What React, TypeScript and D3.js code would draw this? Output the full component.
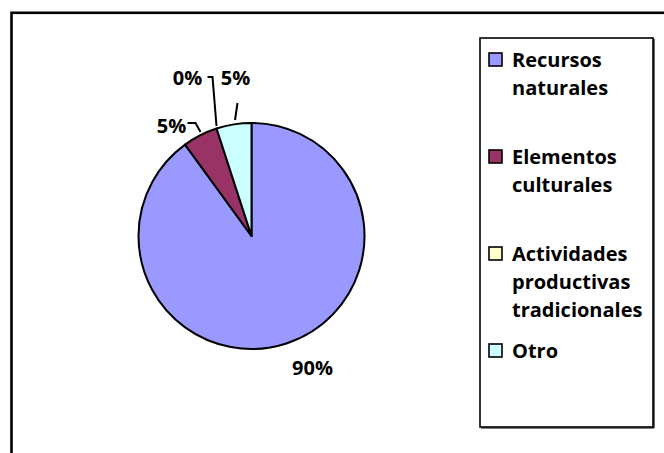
import React from "react";
import * as d3 from "d3";

const categories = [
  "Recursos naturales",
  "Elementos culturales",
  "Actividades productivas tradicionales",
  "Otro",
];
const values = [18, 1, 0, 1];
const colors = ["#9999FF", "#993366", "#FFFFCC", "#CCFFFF"];

const W = 664;
const H = 453;
const FONT = "'Open Sans', Lato, sans-serif";
const FS = 20;

// layout
const cx = 251.5;
const cy = 236;
const R = 113;
// label layout per slice: label anchor (center x, baseline y) offsets relative to pie centre, leader polyline
const labelLayout = [
  { dx: 61, dy: 139, leader: null as null | number[][] },
  { dx: -80, dy: -103, leader: [[-64, -113], [-56, -113], [-51, -104]] },
  { dx: -64, dy: -151, leader: [[-44, -159], [-39, -159], [-35, -110]] },
  { dx: -16, dy: -151, leader: [[-14, -133], [-16.5, -116]] },
];

export default function App() {
  const pie = d3
    .pie<number>()
    .sort(null)
    .value((d) => d)
    .startAngle(0)
    .endAngle(2 * Math.PI);
  const arcs = pie(values);
  const arc = d3.arc<d3.PieArcDatum<number>>().innerRadius(0).outerRadius(R);
  const total = d3.sum(values);
  const pct = d3.format(".0%");
  const line = d3.line();

  const legendX = 480;
  const legendY = 38;
  const legendW = 173;
  const legendH = 389;
  const entryBase0 = 67;
  const entryStep = 97;
  const lineH = 28;

  return (
    <svg
      width={W}
      height={H}
      style={{ position: "absolute", left: 0, top: 0, background: "#fff" }}
      fontFamily={FONT}
    >
      <rect x={0} y={0} width={W} height={H} fill="#fff" />
      {/* outer frame (extends past right/bottom) */}
      <rect x={11.5} y={12.8} width={W + 20} height={H + 20} fill="none" stroke="#000" strokeWidth={2.6} />
      <g transform={`translate(${cx},${cy})`}>
        {arcs.map((a, i) => (
          <path
            key={i}
            d={arc(a) || ""}
            fill={colors[i]}
            stroke="#000"
            strokeWidth={a.value === 0 ? 0 : 2}
            strokeLinejoin="round"
          />
        ))}
        {arcs.map((a, i) => {
          const L = labelLayout[i];
          return (
            <g key={"l" + i}>
              {L.leader && (
                <path d={line(L.leader as [number, number][]) || ""} fill="none" stroke="#000" strokeWidth={2} />
              )}
              <text
                x={L.dx}
                y={L.dy}
                textAnchor="middle"
                fontSize={FS}
                fontWeight="bold"
                fill="#000"
              >
                {pct(a.value / total)}
              </text>
            </g>
          );
        })}
      </g>
      {/* legend */}
      <rect x={legendX} y={legendY} width={legendW} height={legendH} fill="#fff" stroke="#000" strokeWidth={1.6} />
      <line x1={legendX + 1} y1={legendY + legendH + 1} x2={legendX + legendW + 1} y2={legendY + legendH + 1} stroke="#000" strokeWidth={1.2} />
      <line x1={legendX + legendW + 1} y1={legendY + 1} x2={legendX + legendW + 1} y2={legendY + legendH + 1} stroke="#000" strokeWidth={1.2} />
      {categories.map((c, i) => {
        const base = entryBase0 + i * entryStep;
        const words = c.split(" ");
        return (
          <g key={c}>
            <rect x={489} y={base - 14} width={13} height={13} fill={colors[i]} stroke="#000" strokeWidth={1.6} />
            <text fontSize={FS} fontWeight="bold" fill="#000">
              {words.map((w, j) => (
                <tspan key={j} x={512} y={base + j * lineH}>
                  {w}
                </tspan>
              ))}
            </text>
          </g>
        );
      })}
    </svg>
  );
}
